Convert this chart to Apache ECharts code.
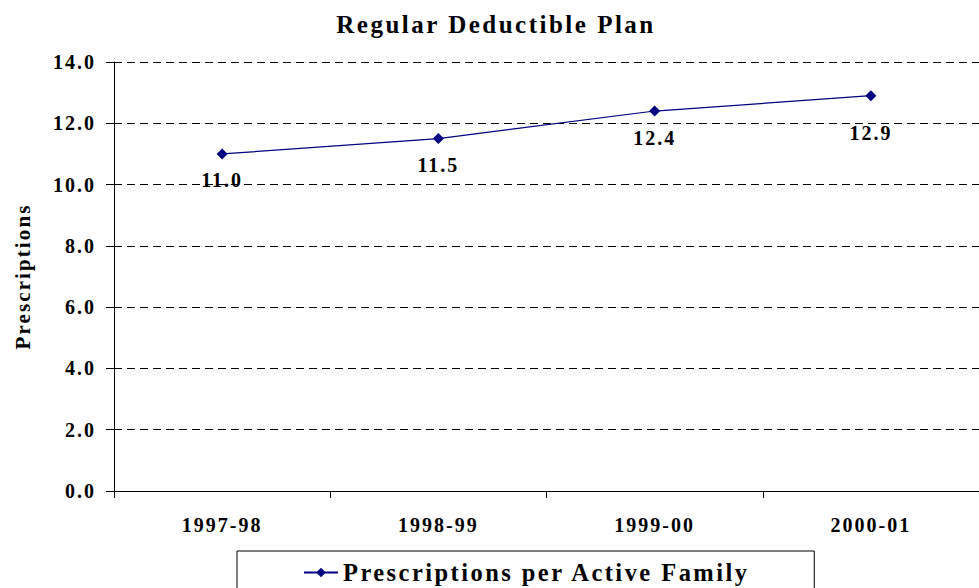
<!DOCTYPE html>
<html>
<head>
<meta charset="utf-8">
<script src="https://cdn.jsdelivr.net/npm/echarts@6/dist/echarts.min.js"></script>
<style>
  html, body { margin: 0; padding: 0; background: #fff; }
  #chart { width: 979px; height: 588px; }
  /* wide tracking on every chart text, scaled to each text's own size */
  #chart svg text { letter-spacing: 0.1em; }
</style>
</head>
<body>
<div id="chart"></div>
<script>
// Prescriptions per active family, by fiscal year
const categories = ['1997-98', '1998-99', '1999-00', '2000-01'];
const prescriptions = [11.0, 11.5, 12.4, 12.9];
const yTicks = { min: 0, max: 14, step: 2 };

const serif = '"Liberation Serif", "Times New Roman", serif';

const chart = echarts.init(document.getElementById('chart'), null, { renderer: 'svg' });

// the last label sits a little lower, clear of the 12.0 grid line
const seriesData = prescriptions.map((v, i) =>
  i === prescriptions.length - 1 ? { value: v, label: { distance: 22 } } : v
);

chart.setOption({
  animation: false,
  backgroundColor: '#ffffff',
  title: {
    text: 'Regular Deductible Plan',
    left: 491,
    textAlign: 'center',
    top: 7,
    textStyle: { fontFamily: serif, fontWeight: 'bold', fontSize: 25, color: '#000' }
  },
  grid: { left: 114, right: -9, top: 62, bottom: 97, containLabel: false },
  legend: {
    left: 237,
    top: 551,
    orient: 'horizontal',
    padding: [9, 139, 30, 66],
    borderColor: '#000',
    borderWidth: 1,
    itemWidth: 34,
    itemHeight: 12,
    itemGap: 0,
    textStyle: { fontFamily: serif, fontWeight: 'bold', fontSize: 24.5, color: '#000' },
    data: ['Prescriptions per Active Family']
  },
  xAxis: {
    type: 'category',
    data: categories,
    boundaryGap: true,
    axisLine: { lineStyle: { color: '#000', width: 1 } },
    axisTick: { show: true, length: 7, inside: false, lineStyle: { color: '#000' } },
    axisLabel: { margin: 24, fontFamily: serif, fontWeight: 'bold', fontSize: 20, color: '#000' },
    splitLine: { show: false }
  },
  yAxis: {
    type: 'value',
    min: yTicks.min,
    max: yTicks.max,
    interval: yTicks.step,
    name: 'Prescriptions',
    nameLocation: 'middle',
    nameRotate: 90,
    nameGap: 81,
    nameTextStyle: { fontFamily: serif, fontWeight: 'bold', fontSize: 21, color: '#000' },
    axisLine: { show: true, lineStyle: { color: '#000', width: 1 } },
    axisTick: { show: true, length: 8, inside: false, lineStyle: { color: '#000' } },
    axisLabel: {
      margin: 18,
      formatter: v => v.toFixed(1),
      fontFamily: serif, fontWeight: 'bold', fontSize: 20, color: '#000'
    },
    splitLine: { show: true, lineStyle: { color: '#000', type: [8, 5], width: 1 } }
  },
  series: [{
    name: 'Prescriptions per Active Family',
    type: 'line',
    data: seriesData,
    symbol: 'diamond',
    symbolSize: 11,
    showSymbol: true,
    itemStyle: { color: '#000080' },
    lineStyle: { color: '#000080', width: 1.2 },
    label: {
      show: true,
      position: 'bottom',
      distance: 11,
      formatter: p => Number(p.value).toFixed(1),
      fontFamily: serif, fontWeight: 'bold', fontSize: 20, color: '#000'
    }
  }]
});
</script>
</body>
</html>
